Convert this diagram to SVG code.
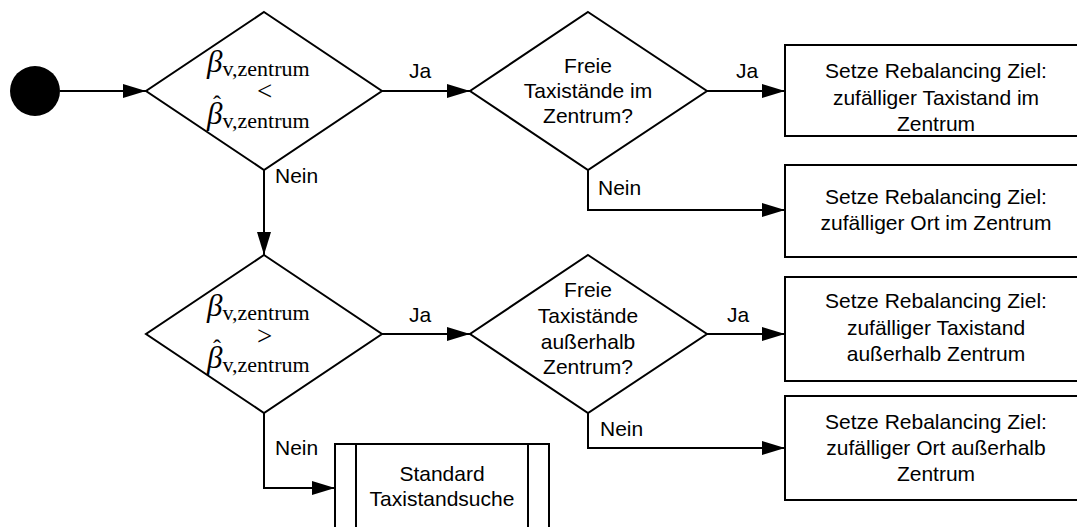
<svg xmlns="http://www.w3.org/2000/svg" width="1077" height="527" viewBox="0 0 1077 527">
<defs>
<marker id="arr" markerUnits="userSpaceOnUse" markerWidth="24" markerHeight="14" refX="23" refY="7" orient="auto">
<path d="M0,0 L23,7 L0,14 z" fill="#000"/>
</marker>
<style>
.s{fill:#fff;stroke:#000;stroke-width:2}
.c{fill:none;stroke:#000;stroke-width:2;marker-end:url(#arr)}
.t{font-family:"Liberation Sans",Arial,sans-serif;font-size:21px;fill:#000;text-anchor:middle}
.l{font-family:"Liberation Sans",Arial,sans-serif;font-size:21px;fill:#000}
.m{font-family:"Liberation Serif","Times New Roman",serif;fill:#000}
.b{font-size:31px;font-style:italic}
.sub{font-size:22px}
.op{font-size:27px}
.hat{font-size:24px}
</style>
</defs>
<rect width="1077" height="527" fill="#fff"/>
<g id="connectors">
<line class="c" x1="60" y1="91" x2="146" y2="91"/>
<line class="c" x1="382" y1="91" x2="470" y2="91"/>
<line class="c" x1="707" y1="91" x2="785" y2="91"/>
<polyline class="c" points="588,170 588,210 785,210"/>
<line class="c" x1="264" y1="170" x2="264" y2="255"/>
<line class="c" x1="382" y1="334" x2="470" y2="334"/>
<line class="c" x1="707" y1="334" x2="785" y2="334"/>
<polyline class="c" points="588,413 588,448 785,448"/>
<polyline class="c" points="264,413 264,488 335,488"/>
<text class="l" x="409" y="78">Ja</text>
<text class="l" x="736" y="78">Ja</text>
<text class="l" x="598" y="195">Nein</text>
<text class="l" x="275" y="183">Nein</text>
<text class="l" x="409" y="322">Ja</text>
<text class="l" x="727" y="322">Ja</text>
<text class="l" x="600" y="436">Nein</text>
<text class="l" x="275" y="455">Nein</text>
</g>
<g id="start">
<circle cx="35" cy="91" r="25" fill="#000"/>
</g>
<g id="decision1">
<polygon class="s" points="264,12 382,91 264,170 146,91"/>
<text class="m"><tspan class="b" x="207" y="72">β</tspan><tspan class="sub" dy="4">v,zentrum</tspan><tspan class="op" x="257" y="100">&lt;</tspan><tspan class="hat" x="213" y="112">ˆ</tspan><tspan class="b" x="207" y="124">β</tspan><tspan class="sub" dy="4">v,zentrum</tspan></text>
</g>
<g id="decision2">
<polygon class="s" points="264,255 382,334 264,413 146,334"/>
<text class="m"><tspan class="b" x="207" y="316">β</tspan><tspan class="sub" dy="4">v,zentrum</tspan><tspan class="op" x="257" y="345">&gt;</tspan><tspan class="hat" x="213" y="356">ˆ</tspan><tspan class="b" x="207" y="368">β</tspan><tspan class="sub" dy="4">v,zentrum</tspan></text>
</g>
<g id="decision3">
<polygon class="s" points="588,12 707,91 588,170 470,91"/>
<text class="t" x="588" y="73">Freie</text>
<text class="t" x="588" y="98">Taxistände im</text>
<text class="t" x="588" y="123">Zentrum?</text>
</g>
<g id="decision4">
<polygon class="s" points="588,255 707,334 588,413 470,334"/>
<text class="t" x="588" y="297">Freie</text>
<text class="t" x="588" y="323">Taxistände</text>
<text class="t" x="588" y="349">außerhalb</text>
<text class="t" x="588" y="374">Zentrum?</text>
</g>
<g id="box1">
<rect class="s" x="785" y="45" width="302" height="91"/>
<text class="t" x="936" y="78">Setze Rebalancing Ziel:</text>
<text class="t" x="936" y="105">zufälliger Taxistand im</text>
<text class="t" x="936" y="131">Zentrum</text>
</g>
<g id="box2">
<rect class="s" x="785" y="165" width="302" height="92"/>
<text class="t" x="936" y="204">Setze Rebalancing Ziel:</text>
<text class="t" x="936" y="230">zufälliger Ort im Zentrum</text>
</g>
<g id="box3">
<rect class="s" x="785" y="277" width="302" height="104"/>
<text class="t" x="936" y="308">Setze Rebalancing Ziel:</text>
<text class="t" x="936" y="335">zufälliger Taxistand</text>
<text class="t" x="936" y="361">außerhalb Zentrum</text>
</g>
<g id="box4">
<rect class="s" x="785" y="396" width="302" height="104"/>
<text class="t" x="936" y="429">Setze Rebalancing Ziel:</text>
<text class="t" x="936" y="455">zufälliger Ort außerhalb</text>
<text class="t" x="936" y="481">Zentrum</text>
</g>
<g id="standard">
<rect class="s" x="335" y="444" width="214" height="100"/>
<line x1="356" y1="444" x2="356" y2="544" stroke="#000" stroke-width="2"/>
<line x1="528" y1="444" x2="528" y2="544" stroke="#000" stroke-width="2"/>
<text class="t" x="442" y="481">Standard</text>
<text class="t" x="442" y="506">Taxistandsuche</text>
</g>
</svg>
